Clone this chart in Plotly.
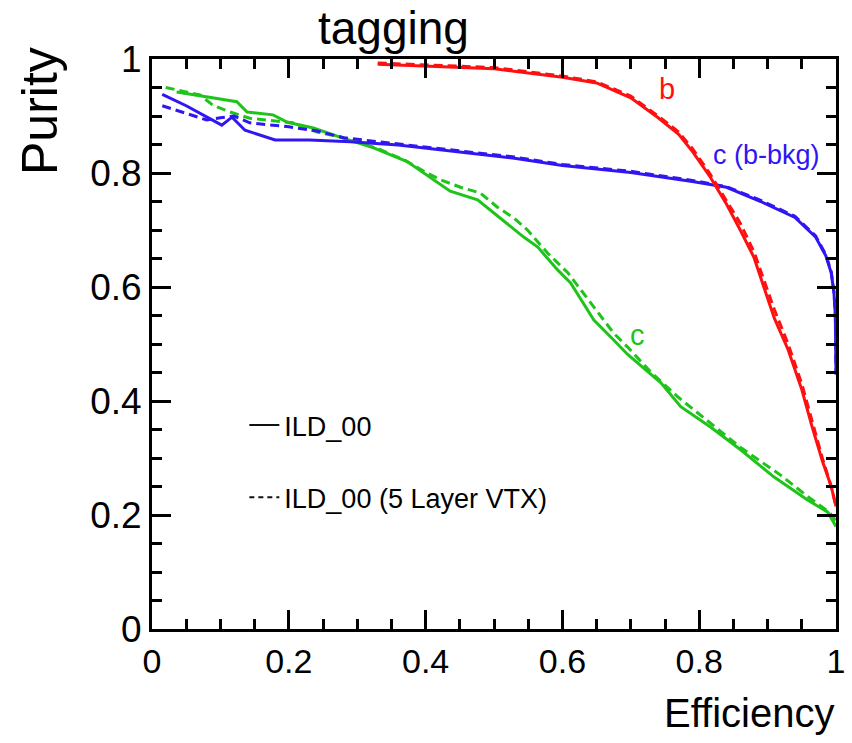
import plotly.graph_objects as go

# ---------------- data ----------------
b_solid_x = [0.33, 0.40, 0.50, 0.60, 0.65, 0.70, 0.74, 0.77, 0.79, 0.815, 0.84, 0.86, 0.88, 0.90, 0.91, 0.93, 0.95, 0.965, 0.98, 0.993, 1.0]
b_solid_y = [0.991, 0.988, 0.983, 0.968, 0.958, 0.932, 0.897, 0.868, 0.838, 0.795, 0.745, 0.700, 0.652, 0.580, 0.545, 0.490, 0.420, 0.355, 0.295, 0.250, 0.215]
b_dash_x = [0.33, 0.40, 0.50, 0.60, 0.65, 0.70, 0.74, 0.77, 0.79, 0.815, 0.84, 0.86, 0.88, 0.90, 0.91, 0.93, 0.95, 0.965, 0.98, 0.993, 1.0]
b_dash_y = [0.993, 0.990, 0.985, 0.970, 0.960, 0.935, 0.900, 0.872, 0.843, 0.800, 0.752, 0.712, 0.662, 0.595, 0.560, 0.500, 0.430, 0.365, 0.300, 0.250, 0.215]

cb_solid_x = [0.015, 0.05, 0.102, 0.117, 0.136, 0.18, 0.23, 0.29, 0.36, 0.43, 0.53, 0.60, 0.70, 0.79, 0.84, 0.89, 0.94, 0.97, 0.985, 0.993, 0.997, 0.999, 1.0]
cb_solid_y = [0.938, 0.918, 0.884, 0.898, 0.875, 0.858, 0.858, 0.855, 0.849, 0.840, 0.826, 0.813, 0.801, 0.785, 0.775, 0.750, 0.722, 0.688, 0.655, 0.625, 0.590, 0.550, 0.446]
cb_dash_x = [0.015, 0.03, 0.08, 0.10, 0.12, 0.143, 0.20, 0.24, 0.28, 0.33, 0.36, 0.43, 0.53, 0.60, 0.70, 0.79, 0.84, 0.89, 0.94, 0.97, 0.985, 0.993, 0.997, 0.999, 1.0]
cb_dash_y = [0.918, 0.912, 0.893, 0.897, 0.900, 0.888, 0.881, 0.874, 0.862, 0.855, 0.851, 0.842, 0.828, 0.815, 0.803, 0.787, 0.776, 0.752, 0.724, 0.690, 0.657, 0.627, 0.592, 0.552, 0.450]

c_solid_x = [0.036, 0.08, 0.124, 0.139, 0.177, 0.198, 0.236, 0.275, 0.324, 0.373, 0.41, 0.436, 0.476, 0.495, 0.543, 0.564, 0.593, 0.612, 0.646, 0.675, 0.695, 0.744, 0.773, 0.817, 0.861, 0.909, 0.959, 0.988, 1.0]
c_solid_y = [0.942, 0.933, 0.925, 0.907, 0.902, 0.889, 0.879, 0.863, 0.844, 0.820, 0.790, 0.768, 0.753, 0.735, 0.688, 0.670, 0.630, 0.607, 0.542, 0.507, 0.482, 0.432, 0.390, 0.354, 0.314, 0.267, 0.226, 0.205, 0.180]
c_dash_x = [0.02, 0.051, 0.07, 0.089, 0.114, 0.143, 0.168, 0.206, 0.241, 0.28, 0.33, 0.37, 0.402, 0.422, 0.451, 0.48, 0.505, 0.529, 0.549, 0.578, 0.608, 0.641, 0.675, 0.695, 0.729, 0.769, 0.821, 0.861, 0.919, 0.959, 0.99, 1.0]
c_dash_y = [0.950, 0.942, 0.937, 0.919, 0.907, 0.896, 0.893, 0.888, 0.872, 0.862, 0.843, 0.822, 0.800, 0.788, 0.775, 0.765, 0.740, 0.721, 0.700, 0.660, 0.625, 0.572, 0.519, 0.495, 0.451, 0.407, 0.356, 0.318, 0.270, 0.232, 0.205, 0.190]

legend_names = ["ILD_00", "ILD_00 (5 Layer VTX)"]
curve_labels = ["b", "c (b-bkg)", "c"]
tick_vals = [0, 0.2, 0.4, 0.6, 0.8, 1]
tick_text = ["0", "0.2", "0.4", "0.6", "0.8", "1"]

RED = "#ff1010"
BLUE = "#3016f2"
GREEN = "#1fc41a"
FONT = "Liberation Sans, Arial, sans-serif"
LW = 3
CURVE_DASH = "9px,5px"

fig = go.Figure()

def add(x, y, color, dash):
    fig.add_trace(go.Scatter(x=x, y=y, mode="lines", showlegend=False,
                             line=dict(color=color, width=LW, dash=dash)))

add(c_solid_x, c_solid_y, GREEN, "solid")
add(c_dash_x, c_dash_y, GREEN, CURVE_DASH)
add(cb_solid_x, cb_solid_y, BLUE, "solid")
add(cb_dash_x, cb_dash_y, BLUE, CURVE_DASH)
add(b_solid_x, b_solid_y, RED, "solid")
add(b_dash_x, b_dash_y, RED, CURVE_DASH)

# legend entries (black samples)
fig.add_trace(go.Scatter(x=[None], y=[None], mode="lines", name=legend_names[0],
                         legendgroup="a", line=dict(color="#111111", width=2)))
fig.add_trace(go.Scatter(x=[None], y=[None], mode="lines", name=legend_names[1],
                         legendgroup="b", line=dict(color="#111111", width=2, dash="5px,4px")))

# curve labels
fig.add_annotation(x=0.753, y=0.947, text=curve_labels[0], showarrow=False,
                   font=dict(family=FONT, size=29, color=RED))
fig.add_annotation(x=0.899, y=0.832, text=curve_labels[1], showarrow=False,
                   font=dict(family=FONT, size=27, color=BLUE))
fig.add_annotation(x=0.710, y=0.516, text=curve_labels[2], showarrow=False,
                   font=dict(family=FONT, size=29, color=GREEN))

# titles
fig.add_annotation(x=0.353, y=1.0, xref="paper", yref="paper", yshift=31,
                   text="tagging", showarrow=False, xanchor="center", yanchor="middle",
                   font=dict(family=FONT, size=46, color="black"))
fig.add_annotation(x=0, y=1.0, xref="paper", yref="paper", xshift=-112, yshift=-52,
                   text="Purity", showarrow=False, textangle=-90,
                   xanchor="center", yanchor="middle",
                   font=dict(family=FONT, size=50, color="black"))
fig.add_annotation(x=1.0, y=0, xref="paper", yref="paper", xanchor="right", yanchor="middle",
                   yshift=-84, text="Efficiency", showarrow=False,
                   font=dict(family=FONT, size=40, color="black"))

axis_common = dict(
    range=[0, 1], showline=True, mirror="ticks", linecolor="black", linewidth=3,
    ticks="inside", ticklen=19, tickwidth=3, tickcolor="black", automargin=False,
    showgrid=False, zeroline=False, tickvals=tick_vals, ticktext=tick_text,
    minor=dict(ticks="inside", ticklen=10, tickwidth=3, tickcolor="black", dtick=0.05, showgrid=False),
)

fig.update_xaxes(**axis_common, tickfont=dict(family=FONT, size=34, color="black"))
fig.update_yaxes(**axis_common, tickfont=dict(family=FONT, size=37, color="black"))

fig.update_layout(
    width=852, height=743,
    margin=dict(l=152, r=16, t=59, b=114),
    plot_bgcolor="white", paper_bgcolor="white",
    showlegend=True,
    legend=dict(x=0.135, y=0.40, xanchor="left", yanchor="top",
                bgcolor="rgba(0,0,0,0)", tracegroupgap=34,
                font=dict(family=FONT, size=27, color="black")),
)

fig.write_html("out.html")
